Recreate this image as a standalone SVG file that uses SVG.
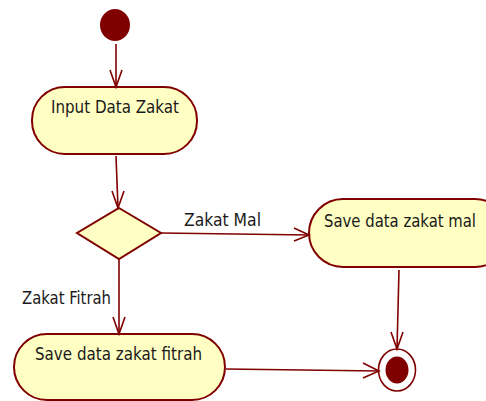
<svg xmlns="http://www.w3.org/2000/svg" width="486" height="401" viewBox="0 0 486 401">
<defs>
<style>
.act{fill:#FFFFC4;stroke:#800000;stroke-width:2}
.edge{fill:none;stroke:#800000;stroke-width:1.6}
.head{fill:none;stroke:#800000;stroke-width:1.6}
.t{font-family:"DejaVu Sans","Liberation Sans",sans-serif;font-stretch:condensed;font-size:18px;fill:#1a1a1a}
</style>
</defs>
<rect width="486" height="401" fill="#ffffff"/>
<g id="start"><ellipse cx="115" cy="25" rx="15" ry="16" fill="#800000"/></g>
<g id="input"><rect class="act" x="32" y="87" width="165" height="67" rx="33" ry="33"/><text class="t" x="51" y="113" textLength="128" lengthAdjust="spacingAndGlyphs">Input Data Zakat</text></g>
<g id="decision"><polygon class="act" points="119,208 161,233 119,259 77,233"/></g>
<g id="savemal"><rect class="act" x="309" y="199" width="200" height="68" rx="34" ry="34"/><text class="t" x="324" y="227" textLength="152" lengthAdjust="spacingAndGlyphs">Save data zakat mal</text></g>
<g id="savefitrah"><rect class="act" x="14" y="334" width="211" height="66" rx="33" ry="33"/><text class="t" x="35" y="360" textLength="167" lengthAdjust="spacingAndGlyphs">Save data zakat fitrah</text></g>
<g id="end"><ellipse cx="397" cy="370" rx="18.5" ry="21" fill="#ffffff" stroke="#800000" stroke-width="1.6"/><ellipse cx="397" cy="370" rx="11.5" ry="13.5" fill="#800000"/></g>
<g id="connectors">
<path class="edge" d="M116,44 L116,87"/><path class="head" d="M110,70 L116,87 L122,70"/>
<path class="edge" d="M116,156 L118,208"/><path class="head" d="M112,191 L118,208 L124,191"/>
<path class="edge" d="M161,233 L309,235"/><path class="head" d="M294,228 L309,235 L294,241"/>
<path class="edge" d="M119,259 L119,334"/><path class="head" d="M113,317 L119,334 L125,317"/>
<path class="edge" d="M399,270 L397,349"/><path class="head" d="M391,332 L397,349 L403,332"/>
<path class="edge" d="M226,369 L379,371"/><path class="head" d="M363,363 L379,371 L363,378"/>
<text class="t" x="184" y="226" textLength="77" lengthAdjust="spacingAndGlyphs">Zakat Mal</text>
<text class="t" x="22" y="304" textLength="89" lengthAdjust="spacingAndGlyphs">Zakat Fitrah</text>
</g>
</svg>
